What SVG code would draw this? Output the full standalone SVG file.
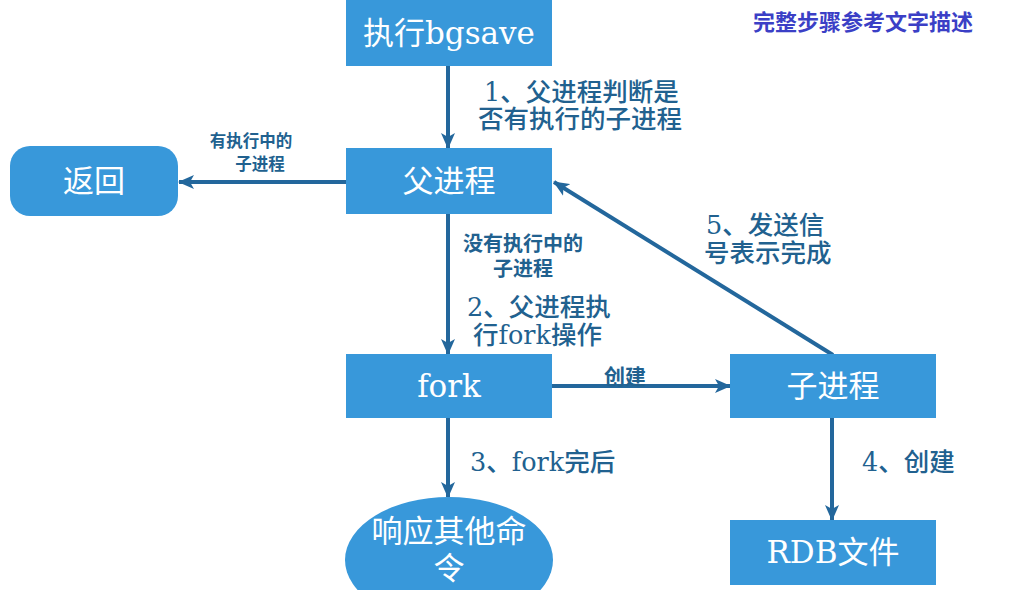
<svg xmlns="http://www.w3.org/2000/svg" width="1020" height="590" viewBox="0 0 1020 590">
<defs>
<marker id="ah" markerWidth="16" markerHeight="14" refX="15" refY="7" orient="auto" markerUnits="userSpaceOnUse" viewBox="0 0 16 14">
<path d="M0,0 L16,7 L0,14 L4,7 Z" fill="#23679c"/>
</marker>
<style>
.box{fill:#3898da}
.nt{fill:#ffffff;font-family:"DejaVu Serif","Noto Sans CJK SC",serif;font-size:31px;text-anchor:middle;dominant-baseline:central}
.lb{fill:#21618f;font-family:"DejaVu Serif","Noto Sans CJK SC",serif;font-size:25.5px;font-weight:500;dominant-baseline:central}
.sm{fill:#21618f;font-family:"Liberation Sans","Noto Sans CJK SC",sans-serif;font-weight:bold;text-anchor:middle;dominant-baseline:central}
.ln{stroke:#23679c;stroke-width:4;fill:none;marker-end:url(#ah)}
</style>
</defs>
<rect width="1020" height="590" fill="#ffffff"/>
<text x="863" y="20" fill="#3b3fc6" font-family="Noto Sans CJK SC,sans-serif" font-size="22" font-weight="bold" text-anchor="middle" dominant-baseline="central">完整步骤参考文字描述</text>
<g id="connectors">
<line class="ln" x1="448" y1="66" x2="448" y2="148"/>
<line class="ln" x1="346" y1="182" x2="179" y2="182"/>
<line class="ln" x1="448" y1="214" x2="448" y2="354"/>
<line class="ln" x1="552" y1="386" x2="730" y2="386"/>
<line class="ln" x1="448" y1="418" x2="448" y2="497"/>
<line class="ln" x1="832" y1="418" x2="832" y2="520"/>
<line class="ln" x1="833" y1="355" x2="554" y2="182"/>
<text class="lb" x="484" y="92">1、父进程判断是</text>
<text class="lb" x="478" y="119">否有执行的子进程</text>
<text class="sm" font-size="16.5" x="251" y="141">有执行中的</text>
<text class="sm" font-size="16.5" x="260" y="164">子进程</text>
<text class="sm" font-size="20" x="523" y="244">没有执行中的</text>
<text class="sm" font-size="20" x="523" y="269">子进程</text>
<text class="lb" x="467" y="307">2、父进程执</text>
<text class="lb" x="473" y="335">行fork操作</text>
<text class="lb" x="706" y="225">5、发送信</text>
<text class="lb" x="704" y="253">号表示完成</text>
<text class="sm" font-size="21" x="625" y="376">创建</text>
<text class="lb" x="470" y="462">3、fork完后</text>
<text class="lb" x="862" y="462">4、创建</text>
</g>
<g id="bgsave"><rect class="box" x="346" y="0" width="206" height="66"/><text class="nt" x="449" y="33">执行bgsave</text></g>
<g id="parent"><rect class="box" x="346" y="148" width="206" height="66"/><text class="nt" x="449" y="181">父进程</text></g>
<g id="ret"><rect class="box" x="10" y="146" width="168" height="70" rx="20"/><text class="nt" x="94" y="181">返回</text></g>
<g id="fork"><rect class="box" x="346" y="354" width="206" height="64"/><text class="nt" x="449" y="386">fork</text></g>
<g id="child"><rect class="box" x="730" y="354" width="206" height="64"/><text class="nt" x="833" y="386">子进程</text></g>
<g id="respond"><ellipse class="box" cx="449" cy="560" rx="104" ry="63"/><text class="nt" x="449" y="531">响应其他命</text><text class="nt" x="449" y="568">令</text></g>
<g id="rdb"><rect class="box" x="730" y="520" width="206" height="65"/><text class="nt" x="833" y="552">RDB文件</text></g>
</svg>
